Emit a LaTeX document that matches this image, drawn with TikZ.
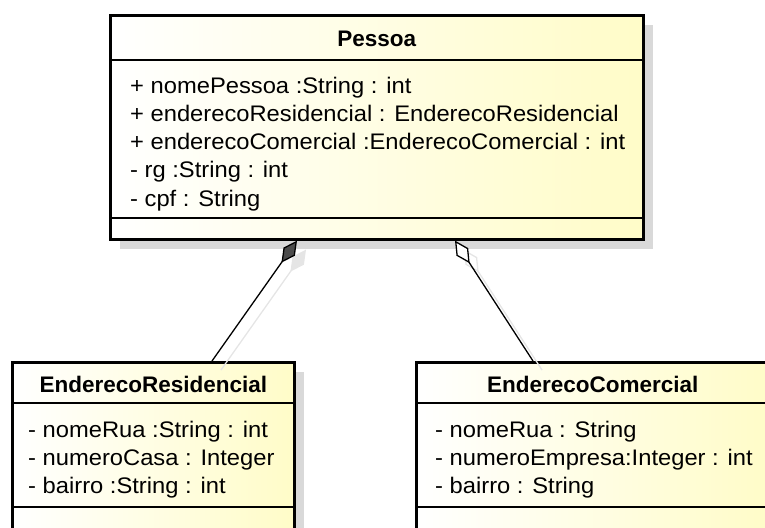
\documentclass[tikz,border=0pt]{standalone}
\usepackage{fontspec}
\setmainfont{Liberation Sans}
\newfontfamily\attrfont{Liberation Sans}[FakeStretch=1.055]
\usetikzlibrary{arrows.meta,calc,shadows}

\begin{document}
\begin{tikzpicture}[x=1pt,y=-1pt,
  classbox/.style={draw,line width=2.6pt,left color=white,right color=umlyellow,
    anchor=north west,inner sep=0pt,
    drop shadow={shadow xshift=10pt,shadow yshift=-10pt,fill=black!15,opacity=1}},
  divider/.style={line width=1.2pt},
  classname/.style={font=\fontsize{22.5}{27}\selectfont\bfseries,anchor=base,inner sep=0pt},
  attr/.style={font=\attrfont\fontsize{22.5}{27}\selectfont,anchor=base west,inner sep=0pt},
  assoc/.style={line width=1.3pt},
  assocshadow/.style={line width=1.3pt,draw=black!10,transform canvas={shift={(9pt,-9pt)}}}]
\definecolor{umlyellow}{HTML}{FFFCC8}
\useasboundingbox (0,0) rectangle (765,527);
\clip (0,0) rectangle (765,527);
% classes
\node[classbox,minimum width=533pt,minimum height=224pt] (pessoa) at (109,14) {};
\node[classbox,minimum width=282pt,minimum height=200pt] (resid) at (11,361) {};
\node[classbox,minimum width=353pt,minimum height=200pt] (comerc) at (415,361) {};
\foreach \cls/\top/\mid in {pessoa/46/204,resid/42/146,comerc/42/146}
{ \draw[divider] ([yshift=-\top pt]\cls.north west) -- ([yshift=-\top pt]\cls.north east);
  \draw[divider] ([yshift=-\mid pt]\cls.north west) -- ([yshift=-\mid pt]\cls.north east);}
\node[classname] (pessoaName) at ([yshift=-33pt]pessoa.north) {Pessoa};
\node[classname] (residName) at ([yshift=-31pt]resid.north) {EnderecoResidencial};
\node[classname] (comercName) at ([yshift=-31pt]comerc.north) {EnderecoComercial};
\foreach \txt [count=\i] in {+ nomePessoa :String : int,
  + enderecoResidencial : EnderecoResidencial,
  + enderecoComercial :EnderecoComercial : int,
  - rg :String : int, - cpf : String}
  {\node[attr] (pessoa\i) at ($(pessoa.north west)+(21,79+28.3*\i-28.3)$) {\txt};}
\foreach \txt [count=\i] in {- nomeRua :String : int, - numeroCasa : Integer, - bairro :String : int}
  {\node[attr] (resid\i) at ($(resid.north west)+(17,76+28*\i-28)$) {\txt};}
\foreach \txt [count=\i] in {- nomeRua : String, - numeroEmpresa:Integer : int, - bairro : String}
  {\node[attr] (comerc\i) at ($(comerc.north west)+(20,76+28*\i-28)$) {\txt};}
% associations
\draw[assocshadow,-{Diamond[length=27pt,width=14pt,fill=black!10]}]
  ([xshift=201pt]resid.north west) -- ([xshift=188pt]pessoa.south west);
\draw[assocshadow,-{Diamond[length=27pt,width=14pt,fill=white]}]
  ([xshift=118pt]comerc.north west) -- ([xshift=346pt]pessoa.south west);
\draw[assoc,-{Diamond[length=27pt,width=14pt,fill=black!70]}]
  ([xshift=201pt]resid.north west) -- ([xshift=188pt]pessoa.south west);
\draw[assoc,-{Diamond[length=27pt,width=14pt,fill=white]}]
  ([xshift=118pt]comerc.north west) -- ([xshift=346pt]pessoa.south west);
\end{tikzpicture}
\end{document}
